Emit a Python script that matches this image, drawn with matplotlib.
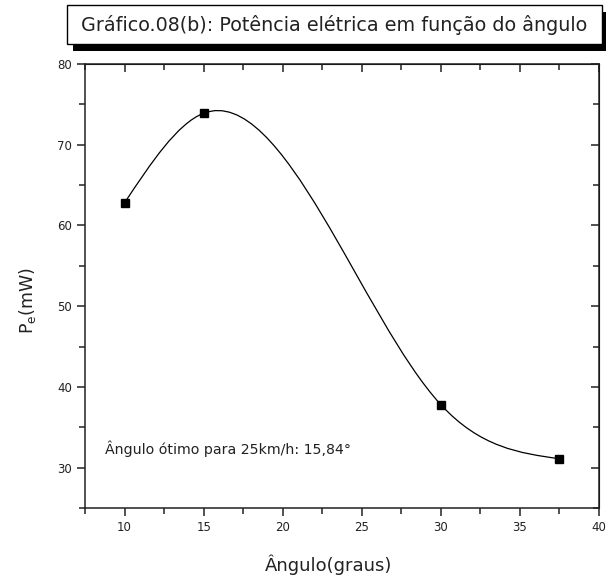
import numpy as np
import matplotlib
matplotlib.use("Agg")
import matplotlib.pyplot as plt
from matplotlib.patches import Rectangle
from matplotlib.path import Path
from matplotlib.patches import PathPatch
from matplotlib.ticker import MultipleLocator

# dados
angulos = [10, 15, 30, 37.5]
potencia = [62.8, 73.9, 37.8, 31.1]

titulo = "Gráfico.08(b): Potência elétrica em função do ângulo"
xlabel = "Ângulo(graus)"
ylabel = r"P$_\mathregular{e}$(mW)"
nota = "Ângulo ótimo para 25km/h: 15,84°"

plt.rcParams['font.family'] = ['DejaVu Sans']


def spline_path(x, y):
    """Spline cubica natural convertida em curvas de Bezier."""
    x = np.asarray(x, float)
    y = np.asarray(y, float)
    n = len(x)
    h = np.diff(x)
    A = np.zeros((n, n))
    b = np.zeros(n)
    A[0, 0] = A[-1, -1] = 1
    for i in range(1, n - 1):
        A[i, i - 1] = h[i - 1]
        A[i, i] = 2 * (h[i - 1] + h[i])
        A[i, i + 1] = h[i]
        b[i] = 6 * ((y[i + 1] - y[i]) / h[i] - (y[i] - y[i - 1]) / h[i - 1])
    M = np.linalg.solve(A, b)
    verts = [(x[0], y[0])]
    codes = [Path.MOVETO]
    for i in range(n - 1):
        s = (y[i + 1] - y[i]) / h[i]
        m0 = s - h[i] * (2 * M[i] + M[i + 1]) / 6
        m1 = s + h[i] * (M[i] + 2 * M[i + 1]) / 6
        verts += [(x[i] + h[i] / 3, y[i] + m0 * h[i] / 3),
                  (x[i + 1] - h[i] / 3, y[i + 1] - m1 * h[i] / 3),
                  (x[i + 1], y[i + 1])]
        codes += [Path.CURVE4] * 3
    return Path(verts, codes)


fig = plt.figure(figsize=(6.06, 5.77), dpi=100)
ax = fig.add_axes([85 / 606, 69 / 577, 514 / 606, 444 / 577])

ax.add_patch(PathPatch(spline_path(angulos, potencia), fill=False,
                       edgecolor="black", linewidth=0.9))
ax.plot(angulos, potencia, linestyle="none", marker="s", markersize=6,
        color="black")

ax.set_xlim(7.5, 40)
ax.set_ylim(25, 80)
ax.xaxis.set_major_locator(MultipleLocator(5))
ax.xaxis.set_minor_locator(MultipleLocator(2.5))
ax.yaxis.set_major_locator(MultipleLocator(10))
ax.yaxis.set_minor_locator(MultipleLocator(5))

for s in ax.spines.values():
    s.set_linewidth(1.1)
    s.set_color("#222222")

ax.tick_params(which="both", direction="out", top=False, right=False,
               labelsize=8.5, color="#222222", width=1.1, labelcolor="#222222")
ax.tick_params(which="major", length=6)
ax.tick_params(which="minor", length=4)

# ticks para dentro no topo e na direita
sec_x = ax.secondary_xaxis("top")
sec_x.xaxis.set_major_locator(MultipleLocator(5))
sec_x.xaxis.set_minor_locator(MultipleLocator(2.5))
sec_x.tick_params(which="both", direction="in", labeltop=False, color="#222222", width=1.1)
sec_x.tick_params(which="major", length=6)
sec_x.tick_params(which="minor", length=4)
sec_y = ax.secondary_yaxis("right")
sec_y.yaxis.set_major_locator(MultipleLocator(10))
sec_y.yaxis.set_minor_locator(MultipleLocator(5))
sec_y.tick_params(which="both", direction="in", labelright=False, color="#222222", width=1.1)
sec_y.tick_params(which="major", length=6)
sec_y.tick_params(which="minor", length=4)

ax.set_xlabel(xlabel, fontsize=13, color="#222222")
ax.xaxis.set_label_coords(0.473, -0.105)
ax.set_ylabel(ylabel, fontsize=12.5, color="#222222")
ax.yaxis.set_label_coords(-0.092, 0.466)
ax.text(8.75, 32.3, nota, fontsize=10.2, va="center", ha="left", color="#222222")

# caixa do titulo com sombra
W, H = 606, 577
fig.patches.append(Rectangle((73 / W, 1 - 51 / H), 535 / W, 39 / H,
                             transform=fig.transFigure, facecolor="black",
                             edgecolor="none", figure=fig))
fig.patches.append(Rectangle((67 / W, 1 - 44 / H), 535 / W, 39 / H,
                             transform=fig.transFigure, facecolor="white",
                             edgecolor="black", linewidth=1, figure=fig))
fig.text(334 / W, 1 - 25 / H, titulo, fontsize=13.8, ha="center", va="center",
         color="#222222")

fig.savefig("out.png", dpi=100)
